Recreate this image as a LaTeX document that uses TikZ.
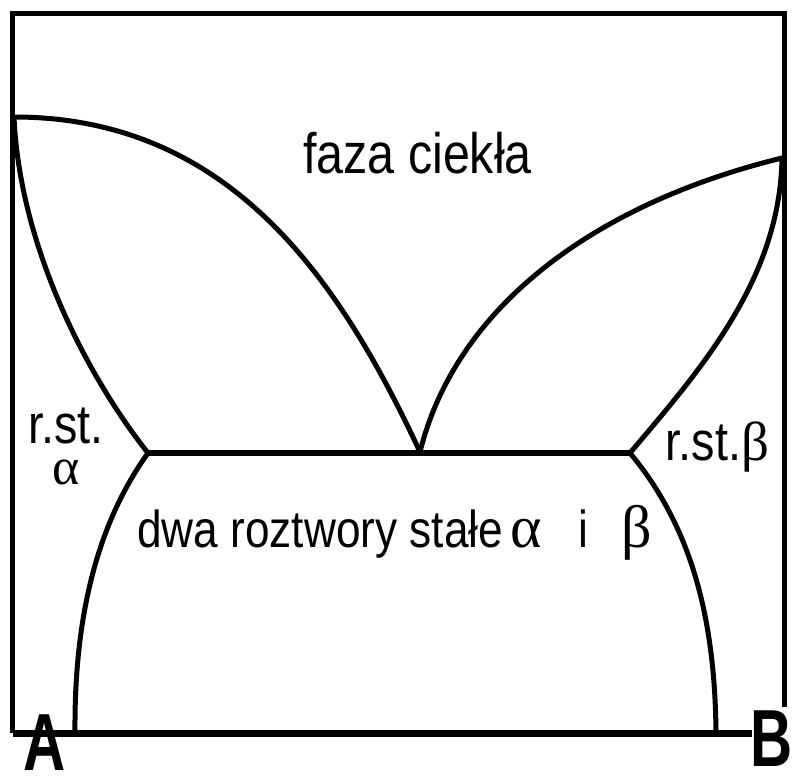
\documentclass[tikz,border=0pt]{standalone}
\usepackage{fontspec}
\setmainfont{Liberation Sans}[FakeStretch=0.85]
\newfontfamily\labfont{Liberation Sans Bold}[FakeStretch=0.72]
\newfontfamily\greekfont{Liberation Serif}
\begin{document}
\begin{tikzpicture}[x=1pt,y=-1pt,
  phase/.style={line width=5pt,line cap=round,line join=round},
  frame/.style={line width=5pt,line join=miter},
  axis/.style={line width=7pt},
  region/.style={inner sep=0pt,font=\fontsize{52}{55}\selectfont},
  greek/.style={inner sep=0pt,font=\greekfont\fontsize{60}{62}\selectfont},
  endlab/.style={inner sep=0pt,font=\labfont\fontsize{81}{85}\selectfont}]
\useasboundingbox (0,0) rectangle (800,778);
\coordinate (TA) at (14,117);
\coordinate (TB) at (782,158);
\coordinate (E) at (420,452);
\coordinate (SA) at (148,453);
\coordinate (SB) at (630,453);
\coordinate (BA) at (75,733);
\coordinate (BB) at (716,733);
\coordinate (F1) at (752,733);
\coordinate (F2) at (12.5,733);
\coordinate (F3) at (12.5,14);
\coordinate (F4) at (784.5,14);
\coordinate (F5) at (784.5,707);
% frame
\draw[frame] (F2) -- (F3) -- (F4) -- (F5);
\draw[axis] (F2) -- (F1);
% liquidus
\draw[phase] (TA) .. controls (230,117) and (340,280) .. (E);
\draw[phase] (E) .. controls (455,310) and (590,205) .. (TB);
% solidus
\draw[phase] (TA) .. controls (20,250) and (90,380) .. (SA);
\draw[phase] (TB) .. controls (780,280) and (700,370) .. (SB);
% eutectic
\draw[line width=6pt] (SA) -- (SB);
% solvus
\draw[phase] (SA) .. controls (100,520) and (74,610) .. (BA);
\draw[phase] (SB) .. controls (690,525) and (715,615) .. (BB);
% labels
\node[region,anchor=base,font=\fontsize{57}{60}\selectfont] (liq) at (417.5,174) {faza ciekła};
\node[region,anchor=base west] (two) at (137,547) {dwa roztwory stałe};
\node[greek,anchor=base] (two-a) at (526.5,547) {α};
\node[region,anchor=base] (two-i) at (583,547) {i};
\node[greek,anchor=base] (two-b) at (636.5,547) {β};
\node[region,anchor=base,font=\fontsize{55}{58}\selectfont] (ra) at (66,443) {r.st.};
\node[greek,anchor=base,font=\greekfont\fontsize{52}{55}\selectfont] (ga) at (66.5,484) {α};
\node[region,anchor=base,font=\fontsize{55}{58}\selectfont] (rb) at (717.5,460) {r.st.{\greekfont β}};
\node[endlab,anchor=base] (A) at (44.5,770) {A};
\node[endlab,anchor=base] (B) at (772,766) {B};
\end{tikzpicture}
\end{document}
